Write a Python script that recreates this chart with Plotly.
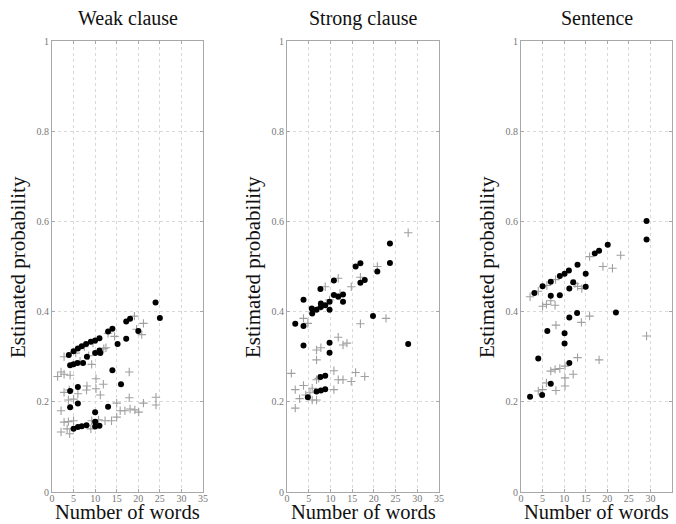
import plotly.graph_objects as go

# ---------- data ----------
panel_titles = ["Weak clause", "Strong clause", "Sentence"]
x_ticks = [0, 5, 10, 15, 20, 25, 30, 35]
y_ticks = [0, 0.2, 0.4, 0.6, 0.8, 1]
y_tick_labels = ["0", "0.2", "0.4", "0.6", "0.8", "1"]

# Weak clause
weak_dot_x = [3.9, 5, 6, 6.9, 7.9, 9, 10, 11, 13, 14, 17.2, 18.1, 24, 25,
              4.2, 5, 5.9, 7.2, 8.1, 10, 11, 11.2, 15.2, 17.2, 20,
              14, 16, 4.2, 6,
              4.2, 6, 10, 13,
              5, 6, 6.9, 8, 10, 10, 11]
weak_dot_y = [0.304, 0.312, 0.318, 0.323, 0.328, 0.333, 0.336, 0.341, 0.356, 0.362, 0.378, 0.384, 0.42, 0.386,
              0.281, 0.283, 0.286, 0.286, 0.300, 0.308, 0.314, 0.308, 0.328, 0.340, 0.357,
              0.270, 0.239, 0.224, 0.233,
              0.188, 0.196, 0.177, 0.189,
              0.140, 0.144, 0.146, 0.148, 0.156, 0.145, 0.147]
weak_plus_x = [2.8, 1.3, 2.1, 2.8, 4.2, 9.2, 10.2, 11.9, 10.2, 11.2, 8.1, 2.8, 3.8, 5,
               2.1, 2.8, 3.8, 5, 2.1, 4.1, 13, 15, 15.8, 16.9, 18.1, 19.2, 20.1, 21.2,
               17.9, 24.1, 24.1, 17.9, 19.1, 21.2, 19.6, 20.8, 9.2, 10.8, 12.3, 13.8, 15, 9,
               5.5, 7.5, 9.5, 12, 14.5, 6.5, 8.5, 12.5, 4, 6, 8, 3.5]
weak_plus_y = [0.300, 0.256, 0.266, 0.261, 0.259, 0.283, 0.251, 0.239, 0.229, 0.215, 0.235, 0.221, 0.204, 0.206,
               0.180, 0.155, 0.156, 0.158, 0.133, 0.129, 0.352, 0.197, 0.180, 0.180, 0.184, 0.182, 0.177, 0.197,
               0.209, 0.210, 0.193, 0.266, 0.390, 0.374, 0.361, 0.349, 0.158, 0.160, 0.158, 0.158, 0.166, 0.140,
               0.308, 0.322, 0.330, 0.318, 0.345, 0.290, 0.302, 0.320, 0.226, 0.218, 0.226, 0.140]

# Strong clause
strong_dot_x = [1.9, 3.8, 3.8, 3.8, 7.7, 5.7, 5.8, 6.8, 7.8, 7.8, 8.8, 9.8, 9.8, 10.8, 11.8, 12.9, 12.9,
                10.8, 15.8, 16.9, 16.9, 17.9, 20.8, 23.7, 23.7, 19.8, 27.9,
                9.8, 9.8, 7.7, 8.8, 6.8, 7.8, 8.8, 4.8]
strong_dot_y = [0.373, 0.426, 0.368, 0.325, 0.450, 0.407, 0.396, 0.404, 0.410, 0.418, 0.414, 0.422, 0.404, 0.437, 0.433, 0.438, 0.422,
                0.469, 0.500, 0.507, 0.464, 0.470, 0.489, 0.551, 0.508, 0.390, 0.328,
                0.331, 0.309, 0.255, 0.258, 0.223, 0.225, 0.228, 0.210]
strong_plus_x = [1, 1.9, 1.9, 2.9, 3.8, 3.8, 4.8, 5.8, 6.8, 6.8, 6.8, 6.8, 7.8, 8.8, 10.8, 10.8, 11.8, 12.9,
                 11.8, 12.9, 13.8, 11.8, 14.8, 15.8, 17.9, 16.9, 14.8, 16.9, 20.8, 22.8, 27.9,
                 7.8, 9.8, 12.2, 5.3, 4.3, 5.8, 7.3]
strong_plus_y = [0.263, 0.227, 0.186, 0.207, 0.236, 0.385, 0.374, 0.204, 0.204, 0.249, 0.293, 0.315, 0.320, 0.455, 0.269, 0.227, 0.249, 0.249,
                 0.343, 0.326, 0.330, 0.474, 0.245, 0.265, 0.256, 0.373, 0.455, 0.476, 0.500, 0.385, 0.575,
                 0.411, 0.426, 0.440, 0.220, 0.215, 0.230, 0.252]

# Sentence
sent_dot_x = [2.1, 4, 4.9, 6.1, 6.9, 6.9, 5, 3.1, 6.9, 9, 9, 10.1, 11.1, 13.1, 10.1, 10.1, 11.2, 11.2,
              11.2, 12.1, 13, 15, 15, 17.1, 18.1, 20.1, 22, 29.1, 29.1]
sent_dot_y = [0.211, 0.296, 0.215, 0.357, 0.240, 0.435, 0.456, 0.441, 0.466, 0.436, 0.479, 0.484, 0.491, 0.504, 0.352, 0.329, 0.387, 0.286,
              0.451, 0.465, 0.397, 0.484, 0.455, 0.529, 0.535, 0.548, 0.398, 0.601, 0.560]
sent_plus_x = [2.1, 4, 6, 8, 5, 5.9, 6.9, 7.9, 8.1, 14, 15.9, 13.1, 18.1, 19, 21.2, 23.1, 15.9,
               6.9, 7.9, 9, 10.2, 4, 5, 8.1, 10.2, 10.2, 12.1, 5.9, 29.1, 14.1, 13.1, 12.5]
sent_plus_y = [0.433, 0.445, 0.458, 0.471, 0.412, 0.416, 0.424, 0.414, 0.370, 0.376, 0.390, 0.298, 0.293, 0.500, 0.496, 0.525, 0.522,
               0.268, 0.272, 0.274, 0.279, 0.224, 0.227, 0.225, 0.235, 0.253, 0.261, 0.242, 0.346, 0.451, 0.456, 0.462]

panels = [
    (weak_dot_x, weak_dot_y, weak_plus_x, weak_plus_y),
    (strong_dot_x, strong_dot_y, strong_plus_x, strong_plus_y),
    (sent_dot_x, sent_dot_y, sent_plus_x, sent_plus_y),
]

# ---------- layout geometry ----------
W, H = 676, 524
x_px = [(52, 203), (287, 439), (521, 672)]
y_top, y_bot = 41, 492
ydom = [1 - y_bot / H, 1 - y_top / H]
SERIF = "Liberation Serif, Times New Roman, serif"

fig = go.Figure()
layout = dict(
    width=W, height=H, margin=dict(l=0, r=0, t=0, b=0, autoexpand=False),
    paper_bgcolor="white", plot_bgcolor="white", showlegend=False,
    font=dict(family=SERIF, color="#000"),
)
annotations = []
for i, (dx, dy, px, py) in enumerate(panels):
    n = "" if i == 0 else str(i + 1)
    xa, ya = "x" + n, "y" + n
    fig.add_trace(go.Scatter(x=px, y=py, mode="markers", xaxis=xa, yaxis=ya,
                             marker=dict(symbol="cross-thin", size=6,
                                         line=dict(width=1.1, color="#a0a0a0"))))
    fig.add_trace(go.Scatter(x=dx, y=dy, mode="markers", xaxis=xa, yaxis=ya,
                             marker=dict(symbol="circle", size=6, color="#000")))
    common = dict(showgrid=True, gridcolor="#d8d8d8", griddash="dot", gridwidth=1,
                  showline=True, linecolor="#a8a8a8", linewidth=1.2, mirror="ticks",
                  ticks="inside", ticklen=3, tickcolor="#a8a8a8", zeroline=False,
                  automargin=False,
                  tickfont=dict(family=SERIF, size=10, color="#777"))
    layout["xaxis" + n] = dict(common, domain=[x_px[i][0] / W, x_px[i][1] / W],
                               range=[0, 35], tickvals=x_ticks, anchor=ya,
                               ticklabelstandoff=-3)
    layout["yaxis" + n] = dict(common, domain=ydom, range=[0, 1], tickvals=y_ticks,
                               ticktext=y_tick_labels, anchor=xa)
    cx = (x_px[i][0] + x_px[i][1]) / 2 / W
    annotations.append(dict(text=panel_titles[i], x=cx, y=1 - 18 / H, xref="paper", yref="paper",
                            showarrow=False, font=dict(family=SERIF, size=20, color="#111"),
                            xanchor="center", yanchor="middle"))
    annotations.append(dict(text="Number of words", x=cx, y=1 - 511.5 / H, xref="paper", yref="paper",
                            showarrow=False, font=dict(family=SERIF, size=20.5, color="#111"),
                            xanchor="center", yanchor="middle"))
    annotations.append(dict(text="Estimated probability", x=(x_px[i][0] - 34) / W,
                            y=1 - 267 / H, xref="paper", yref="paper", textangle=-90,
                            showarrow=False, font=dict(family=SERIF, size=21, color="#111"),
                            xanchor="center", yanchor="middle"))
layout["annotations"] = annotations
fig.update_layout(**layout)
fig.write_html("out.html", config={"displayModeBar": False},
               post_script="document.body.style.margin='0';document.body.style.padding='0';"
                           "document.body.style.overflow='hidden';")
